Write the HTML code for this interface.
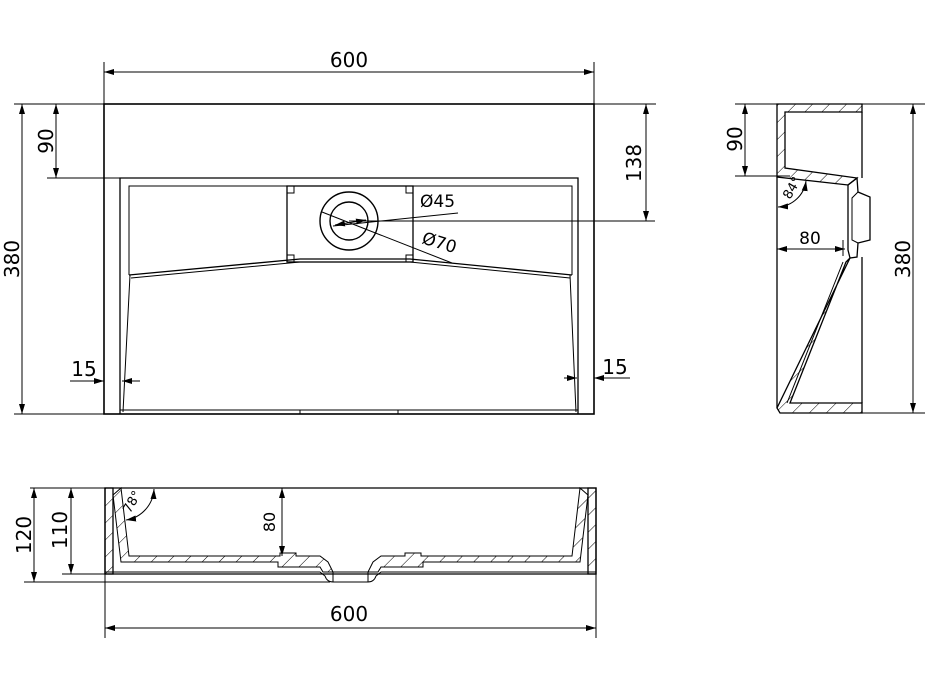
<!DOCTYPE html>
<html><head><meta charset="utf-8"><style>
html,body{margin:0;padding:0;background:#fff}
svg{display:block}
text{font-family:"DejaVu Sans","Liberation Sans",sans-serif;fill:#000}
</style></head><body>
<svg width="928" height="686" viewBox="0 0 928 686" xmlns="http://www.w3.org/2000/svg">
<defs>
<marker id="a" viewBox="0 0 10 6" refX="10" refY="3" markerWidth="10" markerHeight="6" orient="auto-start-reverse" markerUnits="userSpaceOnUse"><path d="M0,0 L10,3 L0,6 z" fill="#000"/></marker>
<pattern id="h" width="12" height="12" patternUnits="userSpaceOnUse" patternTransform="rotate(45)"><line x1="0" y1="0" x2="0" y2="12" stroke="#000" stroke-width="1"/></pattern>
</defs>
<g stroke="#000" fill="none" stroke-width="1">
<!-- ===== TOP VIEW ===== -->
<rect x="104" y="104" width="490" height="310" stroke-width="1.6"/>
<path d="M120,414 V178 H578 V414" stroke-width="1.3"/>
<path d="M129,275 V186 H572 V275"/>
<path d="M129,275 L300,259 L410,259 L572,275" stroke-width="1.3"/>
<path d="M131,278 L300,262 L410,262 L570,278"/>
<path d="M130,275 L123,412 M570,275 L576,412"/>
<path d="M120,410 H578 M300,410 V414 M398,410 V414"/>
<rect x="287" y="186" width="126" height="76" stroke-width="1.3"/>
<path d="M287,193 H294 V186 M413,193 H406 V186 M287,255 H294 V262 M413,255 H406 V262"/>
<circle cx="349" cy="221" r="29" stroke-width="1.4"/>
<circle cx="349" cy="221" r="19" stroke-width="1.4"/>
<line x1="349" y1="221" x2="655" y2="221"/>
<line x1="333" y1="226" x2="458" y2="213"/>
<line x1="322" y1="212" x2="452" y2="263"/>
<line x1="335" y1="225" x2="366" y2="220" marker-start="url(#a)" marker-end="url(#a)"/>
<path d="M104,62 V104 M594,62 V104"/>
<line x1="104" y1="72" x2="594" y2="72" marker-start="url(#a)" marker-end="url(#a)"/>
<path d="M14,104 H104 M14,414 H104 M47,178 H120 M594,104 H656"/>
<line x1="22" y1="104" x2="22" y2="414" marker-start="url(#a)" marker-end="url(#a)"/>
<line x1="56" y1="104" x2="56" y2="178" marker-start="url(#a)" marker-end="url(#a)"/>
<line x1="646" y1="104" x2="646" y2="221" marker-start="url(#a)" marker-end="url(#a)"/>
<line x1="70" y1="381" x2="104" y2="381" marker-end="url(#a)"/>
<line x1="140" y1="381" x2="122" y2="381" marker-end="url(#a)"/>
<line x1="564" y1="378" x2="577" y2="378" marker-end="url(#a)"/>
<line x1="630" y1="378" x2="594" y2="378" marker-end="url(#a)"/>

<!-- ===== SIDE VIEW ===== -->
<path d="M777,104 H862 V112 H785 V168 L857,178 L848,185 L777,177 Z" fill="url(#h)" stroke-width="1.3"/>
<path d="M857,178 L858,192 L870,197 V240 L858,243 L857,257 L850,258 L848,250 V185 Z" stroke-width="1.3"/>
<path d="M858,192 L852,198 V240 L858,243 M852,198 V240" />
<path d="M850,258 L777,408 L780,413 H862 V403 H790 L846,262 Z" fill="url(#h)" stroke-width="1.3"/>
<path d="M777,177 V408 M862,112 V178 M862,257 V403" stroke-width="1.3"/>
<path d="M843,262 L787,403"/>
<path d="M735,104 H777 M735,176 H790 M862,104 H925 M862,413 H925"/>
<line x1="745" y1="104" x2="745" y2="176" marker-start="url(#a)" marker-end="url(#a)"/>
<line x1="913" y1="104" x2="913" y2="413" marker-start="url(#a)" marker-end="url(#a)"/>
<line x1="777" y1="249" x2="845" y2="249" marker-start="url(#a)" marker-end="url(#a)"/>
<line x1="843" y1="240" x2="843" y2="256"/>
<path d="M778,207 A30,30 0 0 0 806,181" marker-start="url(#a)" marker-end="url(#a)"/>

<!-- ===== SECTION VIEW ===== -->
<path d="M105,488 H113 V574 H105 Z M588,488 H596 V574 H588 Z" fill="url(#h)" stroke-width="1.3"/>
<path d="M113,495 L121,488 L129,556 H280 V553 H296 V556 H320 L328,562 L333,572 H323 L320,567 H278 V562 H121 Z" fill="url(#h)"/>
<path d="M588,495 L580,488 L572,556 H421 V553 H405 V556 H381 L373,562 L368,572 H378 L381,567 H423 V562 H580 Z" fill="url(#h)"/>
<path d="M105,488 H596 V574 H105 Z" stroke-width="1.3"/>
<path d="M105,572 H320 L325,576 Q327,582 333,582 H368 Q374,582 376,576 L381,572 H596"/>
<path d="M333,572 H368 M333,572 V582 M368,572 V582"/>
<path d="M30,488 H105 M24,582 H330 M62,574 H105 M105,574 V638 M596,574 V638"/>
<line x1="34" y1="488" x2="34" y2="582" marker-start="url(#a)" marker-end="url(#a)"/>
<line x1="71" y1="488" x2="71" y2="574" marker-start="url(#a)" marker-end="url(#a)"/>
<line x1="282" y1="488" x2="282" y2="556" marker-start="url(#a)" marker-end="url(#a)"/>
<line x1="105" y1="628" x2="596" y2="628" marker-start="url(#a)" marker-end="url(#a)"/>
<path d="M126,520 A33,33 0 0 0 154,489" marker-start="url(#a)" marker-end="url(#a)"/>
</g>
<g font-size="20">
<text x="349" y="67" text-anchor="middle">600</text>
<text x="349" y="621" text-anchor="middle">600</text>
<text transform="translate(19,259) rotate(-90)" text-anchor="middle">380</text>
<text transform="translate(53,141) rotate(-90)" text-anchor="middle">90</text>
<text transform="translate(641,163) rotate(-90)" text-anchor="middle">138</text>
<text x="84" y="376" text-anchor="middle">15</text>
<text x="615" y="374" text-anchor="middle">15</text>
<text x="420" y="207" font-size="17">Ø45</text>
<text transform="translate(421,243) rotate(17)" font-size="17">Ø70</text>
<text transform="translate(742,139) rotate(-90)" text-anchor="middle">90</text>
<text transform="translate(910,259) rotate(-90)" text-anchor="middle">380</text>
<text x="810" y="244" text-anchor="middle" font-size="17">80</text>
<text transform="translate(790,200) rotate(-60)" font-size="13">84°</text>
<text transform="translate(31,535) rotate(-90)" text-anchor="middle">120</text>
<text transform="translate(67,530) rotate(-90)" text-anchor="middle">110</text>
<text transform="translate(275,522) rotate(-90)" text-anchor="middle" font-size="16">80</text>
<text transform="translate(130,514) rotate(-60)" font-size="13">78°</text>
</g>
</svg>
</body></html>
